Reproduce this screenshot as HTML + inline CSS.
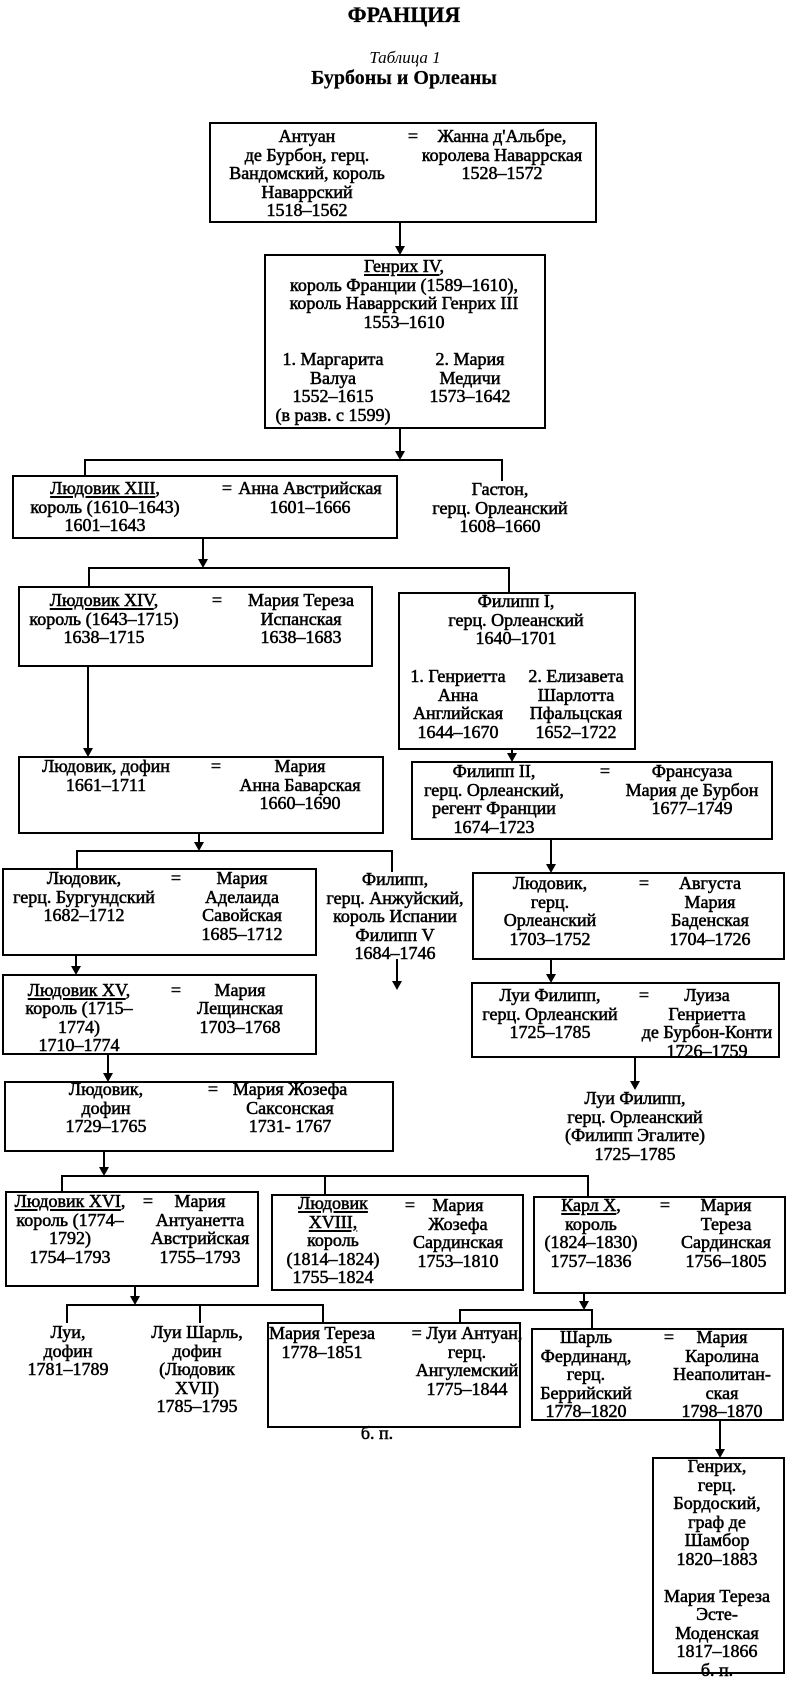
<!DOCTYPE html>
<html>
<head>
<meta charset="utf-8">
<style>
  html, body { margin:0; padding:0; background:#fff; }
  body { width:787px; height:1686px; position:relative; overflow:hidden; }
  svg { position:absolute; left:0; top:0; }
  .t {
    position:absolute;
    font-family:"Liberation Serif","DejaVu Serif",serif;
    font-size:18px;
    line-height:18.5px;
    text-align:center;
    white-space:nowrap;
    color:#000;
    -webkit-text-stroke:0.55px #000;
    transform:translateX(-50%);
  }
  .t u { text-decoration-thickness:1.5px; text-underline-offset:2px; }
  .h1 { font-size:22px; font-weight:bold; line-height:24px; -webkit-text-stroke:0.3px #000; }
  .it { font-size:17px; font-style:italic; line-height:18px; -webkit-text-stroke:0; }
  .h2 { font-size:20px; font-weight:bold; line-height:22px; -webkit-text-stroke:0.2px #000; }
</style>
</head>
<body>
<svg width="787" height="1686" viewBox="0 0 787 1686" xmlns="http://www.w3.org/2000/svg">
  <g fill="none" stroke="#000" stroke-width="2" stroke-linecap="square">
    <!-- boxes -->
    <rect x="210" y="123" width="386" height="99"/>
    <rect x="265" y="255" width="280" height="173"/>
    <rect x="13" y="476" width="384" height="62"/>
    <rect x="19" y="587" width="353" height="79"/>
    <rect x="399" y="593" width="236" height="156"/>
    <rect x="19" y="757" width="364" height="76"/>
    <rect x="412" y="762" width="360" height="77"/>
    <rect x="3" y="869" width="313" height="86"/>
    <rect x="3" y="975" width="313" height="79"/>
    <rect x="5" y="1082" width="388" height="69"/>
    <rect x="473" y="873" width="311" height="86"/>
    <rect x="472" y="983" width="307" height="74"/>
    <rect x="6" y="1192" width="252" height="94"/>
    <rect x="272" y="1195" width="251" height="95"/>
    <rect x="534" y="1197" width="251" height="96"/>
    <rect x="268" y="1323" width="252" height="104"/>
    <rect x="532" y="1329" width="251" height="91"/>
    <rect x="653" y="1458" width="131" height="215"/>
    <!-- branch connectors -->
    <path d="M85 476 V460 H502 V480"/>
    <path d="M89 587 V568 H509 V593"/>
    <path d="M77 869 V851 H392 V871"/>
    <path d="M62 1192 V1176 H588 V1197 M325 1176 V1195"/>
    <path d="M67 1322 V1305 H323 V1323 M200 1305 V1322"/>
    <path d="M460 1323 V1310 H592 V1329"/>
    <!-- arrow shafts -->
    <path d="M400 222 V247 M400 428 V452 M203 538 V560 M88 666 V749 M512 749 V754 M199 833 V843 M551 839 V865 M397 960 V982 M76 955 V967 M108 1054 V1074 M551 959 V975 M635 1057 V1082 M104 1151 V1168 M135 1286 V1297 M584 1293 V1302 M720 1420 V1450"/>
  </g>
  <g fill="#000" stroke="none">
    <polygon points="395,246 405,246 400,255"/>
    <polygon points="395,451 405,451 400,460"/>
    <polygon points="198,559 208,559 203,568"/>
    <polygon points="83,748 93,748 88,757"/>
    <polygon points="507,753 517,753 512,762"/>
    <polygon points="194,842 204,842 199,851"/>
    <polygon points="546,864 556,864 551,873"/>
    <polygon points="392,981 402,981 397,990"/>
    <polygon points="71,966 81,966 76,975"/>
    <polygon points="103,1073 113,1073 108,1082"/>
    <polygon points="546,974 556,974 551,983"/>
    <polygon points="630,1081 640,1081 635,1090"/>
    <polygon points="99,1167 109,1167 104,1176"/>
    <polygon points="130,1296 140,1296 135,1305"/>
    <polygon points="579,1301 589,1301 584,1310"/>
    <polygon points="715,1449 725,1449 720,1458"/>
  </g>
</svg>

<!-- titles -->
<div class="t h1" style="left:404px;top:3px;">ФРАНЦИЯ</div>
<div class="t it" style="left:405px;top:49px;">Таблица 1</div>
<div class="t h2" style="left:404px;top:67px;">Бурбоны и Орлеаны</div>

<!-- Box 1 -->
<div class="t" style="left:307px;top:127.2px;">Антуан<br>де Бурбон, герц.<br>Вандомский, король<br>Наваррский<br>1518–1562</div>
<div class="t" style="left:413px;top:127.2px;">=</div>
<div class="t" style="left:502px;top:127.2px;">Жанна д'Альбре,<br>королева Наваррская<br>1528–1572</div>

<!-- Box 2 -->
<div class="t" style="left:404px;top:257.2px;"><u>Генрих IV</u>,<br>король Франции (1589–1610),<br>король Наваррский Генрих III<br>1553–1610</div>
<div class="t" style="left:333px;top:350.2px;">1. Маргарита<br>Валуа<br>1552–1615<br>(в разв. с 1599)</div>
<div class="t" style="left:470px;top:350.2px;">2. Мария<br>Медичи<br>1573–1642</div>

<!-- Louis XIII -->
<div class="t" style="left:105px;top:479.2px;"><u>Людовик XIII</u>,<br>король (1610–1643)<br>1601–1643</div>
<div class="t" style="left:227px;top:479.2px;">=</div>
<div class="t" style="left:310px;top:479.2px;">Анна Австрийская<br>1601–1666</div>
<div class="t" style="left:500px;top:480.2px;">Гастон,<br>герц. Орлеанский<br>1608–1660</div>

<!-- Louis XIV -->
<div class="t" style="left:104px;top:591.2px;"><u>Людовик XIV</u>,<br>король (1643–1715)<br>1638–1715</div>
<div class="t" style="left:217px;top:591.2px;">=</div>
<div class="t" style="left:301px;top:591.2px;">Мария Тереза<br>Испанская<br>1638–1683</div>

<!-- Philippe I -->
<div class="t" style="left:516px;top:592.2px;">Филипп I,<br>герц. Орлеанский<br>1640–1701</div>
<div class="t" style="left:458px;top:667.2px;">1. Генриетта<br>Анна<br>Английская<br>1644–1670</div>
<div class="t" style="left:576px;top:667.2px;">2. Елизавета<br>Шарлотта<br>Пфальцская<br>1652–1722</div>

<!-- Louis dauphin -->
<div class="t" style="left:106px;top:757.2px;">Людовик, дофин<br>1661–1711</div>
<div class="t" style="left:216px;top:757.2px;">=</div>
<div class="t" style="left:300px;top:757.2px;">Мария<br>Анна Баварская<br>1660–1690</div>

<!-- Philippe II -->
<div class="t" style="left:494px;top:762.2px;">Филипп II,<br>герц. Орлеанский,<br>регент Франции<br>1674–1723</div>
<div class="t" style="left:605px;top:762.2px;">=</div>
<div class="t" style="left:692px;top:762.2px;">Франсуаза<br>Мария де Бурбон<br>1677–1749</div>

<!-- Bourgogne -->
<div class="t" style="left:84px;top:869.2px;">Людовик,<br>герц. Бургундский<br>1682–1712</div>
<div class="t" style="left:176px;top:869.2px;">=</div>
<div class="t" style="left:242px;top:869.2px;">Мария<br>Аделаида<br>Савойская<br>1685–1712</div>

<!-- Anjou -->
<div class="t" style="left:395px;top:870.2px;">Филипп,<br>герц. Анжуйский,<br>король Испании<br>Филипп V<br>1684–1746</div>

<!-- Louis d'Orléans -->
<div class="t" style="left:550px;top:874.2px;">Людовик,<br>герц.<br>Орлеанский<br>1703–1752</div>
<div class="t" style="left:644px;top:874.2px;">=</div>
<div class="t" style="left:710px;top:874.2px;">Августа<br>Мария<br>Баденская<br>1704–1726</div>

<!-- Louis XV -->
<div class="t" style="left:79px;top:980.7px;"><u>Людовик XV</u>,<br>король (1715–<br>1774)<br>1710–1774</div>
<div class="t" style="left:176px;top:980.7px;">=</div>
<div class="t" style="left:240px;top:980.7px;">Мария<br>Лещинская<br>1703–1768</div>

<!-- Louis Philippe -->
<div class="t" style="left:550px;top:986.2px;">Луи Филипп,<br>герц. Орлеанский<br>1725–1785</div>
<div class="t" style="left:644px;top:986.2px;">=</div>
<div class="t" style="left:707px;top:986.2px;">Луиза<br>Генриетта<br>де Бурбон-Конти<br>1726–1759</div>

<!-- Egalite -->
<div class="t" style="left:635px;top:1089.2px;">Луи Филипп,<br>герц. Орлеанский<br>(Филипп Эгалите)<br>1725–1785</div>

<!-- Louis dauphin 2 -->
<div class="t" style="left:106px;top:1080.2px;">Людовик,<br>дофин<br>1729–1765</div>
<div class="t" style="left:213px;top:1080.2px;">=</div>
<div class="t" style="left:290px;top:1080.2px;">Мария Жозефа<br>Саксонская<br>1731- 1767</div>

<!-- Louis XVI -->
<div class="t" style="left:70px;top:1192.2px;"><u>Людовик XVI</u>,<br>король (1774–<br>1792)<br>1754–1793</div>
<div class="t" style="left:148px;top:1192.2px;">=</div>
<div class="t" style="left:200px;top:1192.2px;">Мария<br>Антуанетта<br>Австрийская<br>1755–1793</div>

<!-- Louis XVIII -->
<div class="t" style="left:333px;top:1194.2px;"><u>Людовик</u><br><u>XVIII,</u><br>король<br>(1814–1824)<br>1755–1824</div>
<div class="t" style="left:410px;top:1196.2px;">=</div>
<div class="t" style="left:458px;top:1196.2px;">Мария<br>Жозефа<br>Сардинская<br>1753–1810</div>

<!-- Charles X -->
<div class="t" style="left:591px;top:1196.2px;"><u>Карл X</u>,<br>король<br>(1824–1830)<br>1757–1836</div>
<div class="t" style="left:665px;top:1196.2px;">=</div>
<div class="t" style="left:726px;top:1196.2px;">Мария<br>Тереза<br>Сардинская<br>1756–1805</div>

<!-- children of Louis XVI -->
<div class="t" style="left:68px;top:1323.2px;">Луи,<br>дофин<br>1781–1789</div>
<div class="t" style="left:197px;top:1323.2px;">Луи Шарль,<br>дофин<br>(Людовик<br>XVII)<br>1785–1795</div>

<!-- Marie Therese / Angouleme -->
<div class="t" style="left:322px;top:1324.2px;">Мария Тереза<br>1778–1851</div>
<div class="t" style="left:467px;top:1324.2px;">= Луи Антуан,<br>герц.<br>Ангулемский<br>1775–1844</div>
<div class="t" style="left:377px;top:1424.2px;">б. п.</div>

<!-- Berry -->
<div class="t" style="left:586px;top:1328.2px;">Шарль<br>Фердинанд,<br>герц.<br>Беррийский<br>1778–1820</div>
<div class="t" style="left:669px;top:1328.2px;">=</div>
<div class="t" style="left:722px;top:1328.2px;">Мария<br>Каролина<br>Неаполитан-<br>ская<br>1798–1870</div>

<!-- Chambord -->
<div class="t" style="left:717px;top:1457.2px;">Генрих,<br>герц.<br>Бордоский,<br>граф де<br>Шамбор<br>1820–1883<br>&nbsp;<br>Мария Тереза<br>Эсте-<br>Моденская<br>1817–1866<br>б. п.</div>
</body>
</html>
